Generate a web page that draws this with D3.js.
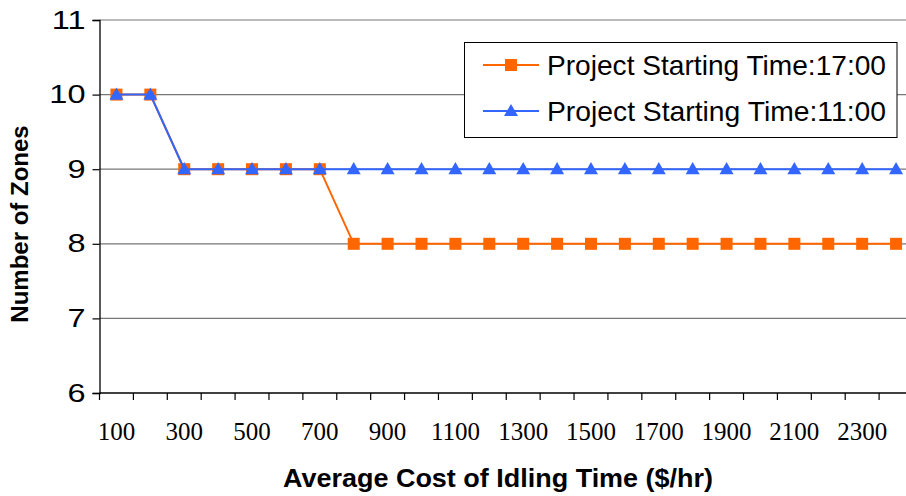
<!DOCTYPE html>
<html><head><meta charset="utf-8">
<script src="https://cdn.jsdelivr.net/npm/d3@7"></script>
<style>body{margin:0;background:#fff}svg{display:block}</style>
</head><body>
<svg id="c" width="906" height="496"></svg>
<script>
const categories = [100,200,300,400,500,600,700,800,900,1000,1100,1200,1300,1400,1500,1600,1700,1800,1900,2000,2100,2200,2300,2400];
const series17 = [10,10,9,9,9,9,9,8,8,8,8,8,8,8,8,8,8,8,8,8,8,8,8,8];
const series11 = [10,10,9,9,9,9,9,9,9,9,9,9,9,9,9,9,9,9,9,9,9,9,9,9];
const yTicks = [6,7,8,9,10,11];
const xTickLabels = [100,300,500,700,900,1100,1300,1500,1700,1900,2100,2300];
const seriesNames = ["Project Starting Time:17:00","Project Starting Time:11:00"];

const svg = d3.select("#c");
const L = 99.5, R = 913, T = 20, B = 393;
const x = d3.scaleBand().domain(categories).range([L, R]);
const y = d3.scaleLinear().domain([6, 11]).range([B, T]);
const cx = d => x(d) + x.bandwidth()/2;

// gridlines
svg.append("g").selectAll("line").data(yTicks.filter(v => v > 6)).join("line")
  .attr("x1", L).attr("x2", R).attr("y1", d => y(d)).attr("y2", d => y(d))
  .attr("stroke", "#777").attr("stroke-width", 1.2);

// y axis
const sx = 1.3;
const ya = svg.append("g").attr("transform", `translate(${L},0)`)
  .call(d3.axisLeft(y).tickValues(yTicks).tickSize(7).tickFormat(d3.format("d")));
ya.select(".domain").attr("stroke", "#000").attr("stroke-width", 1.3);
ya.selectAll(".tick line").attr("stroke", "#000").attr("stroke-width", 1.2);
ya.selectAll("text").attr("font-family", "Liberation Sans, Arial, sans-serif").attr("font-size", 25).attr("fill", "#000")
  .attr("x", -14 / sx).attr("transform", `scale(${sx},1)`);

// x axis
const xa = svg.append("g").attr("transform", `translate(0,${B})`)
  .call(d3.axisBottom(x).tickSize(0).tickFormat(d => xTickLabels.includes(d) ? d : ""));
xa.select(".domain").attr("stroke", "#000").attr("stroke-width", 1.3).attr("d", `M${L},0H${R}`);
xa.selectAll("text").attr("font-family", "Liberation Serif, Times New Roman, serif").attr("font-size", 25).attr("fill", "#000").attr("y", 47).attr("dy", 0);
xa.append("g").selectAll("line").data(categories).join("line")
  .attr("x1", d => x(d)).attr("x2", d => x(d)).attr("y1", 0).attr("y2", 7)
  .attr("stroke", "#000").attr("stroke-width", 1.2);

const line = d3.line().x((d, i) => cx(categories[i])).y(d => y(d));
const orange = "#FF6600", blue = "#3366FF";

// series 17:00
svg.append("path").datum(series17).attr("d", line).attr("fill", "none").attr("stroke", orange).attr("stroke-width", 2);
svg.append("g").selectAll("rect").data(series17).join("rect")
  .attr("x", (d, i) => cx(categories[i]) - 6).attr("y", d => y(d) - 6)
  .attr("width", 12).attr("height", 12).attr("fill", orange);

// series 11:00
const tri = d3.symbol().type(d3.symbolTriangle).size(85);
svg.append("path").datum(series11).attr("d", line).attr("fill", "none").attr("stroke", blue).attr("stroke-width", 2);
svg.append("g").selectAll("path").data(series11).join("path")
  .attr("d", tri).attr("transform", (d, i) => `translate(${cx(categories[i])},${y(d) + 1})`).attr("fill", blue);

// legend
const lg = svg.append("g");
lg.append("rect").attr("x", 464.5).attr("y", 42.5).attr("width", 432.5).attr("height", 95)
  .attr("fill", "#fff").attr("stroke", "#000").attr("stroke-width", 1);
const rows = [{c: orange, t: seriesNames[0], y: 65, m: "sq"}, {c: blue, t: seriesNames[1], y: 111, m: "tri"}];
rows.forEach(r => {
  lg.append("line").attr("x1", 483).attr("x2", 539).attr("y1", r.y).attr("y2", r.y).attr("stroke", r.c).attr("stroke-width", 2);
  if (r.m === "sq") lg.append("rect").attr("x", 505).attr("y", r.y - 6).attr("width", 12).attr("height", 12).attr("fill", r.c);
  else lg.append("path").attr("d", tri).attr("transform", `translate(511,${r.y + 1})`).attr("fill", r.c);
  lg.append("text").attr("x", 547).attr("y", r.y + 10).text(r.t)
    .attr("font-family", "Liberation Sans, Arial, sans-serif").attr("font-size", 28).attr("fill", "#000")
    .attr("textLength", 339).attr("lengthAdjust", "spacingAndGlyphs");
});

// axis titles
svg.append("text").attr("x", 498).attr("y", 487).attr("text-anchor", "middle")
  .attr("font-family", "Liberation Sans, Arial, sans-serif").attr("font-weight", "bold").attr("font-size", 25)
  .attr("textLength", 430).attr("lengthAdjust", "spacingAndGlyphs")
  .text("Average Cost of Idling Time ($/hr)");
svg.append("text").attr("transform", "translate(28,224) rotate(-90)").attr("text-anchor", "middle")
  .attr("font-family", "Liberation Sans, Arial, sans-serif").attr("font-weight", "bold").attr("font-size", 24)
  .text("Number of Zones");
</script>
</body></html>
